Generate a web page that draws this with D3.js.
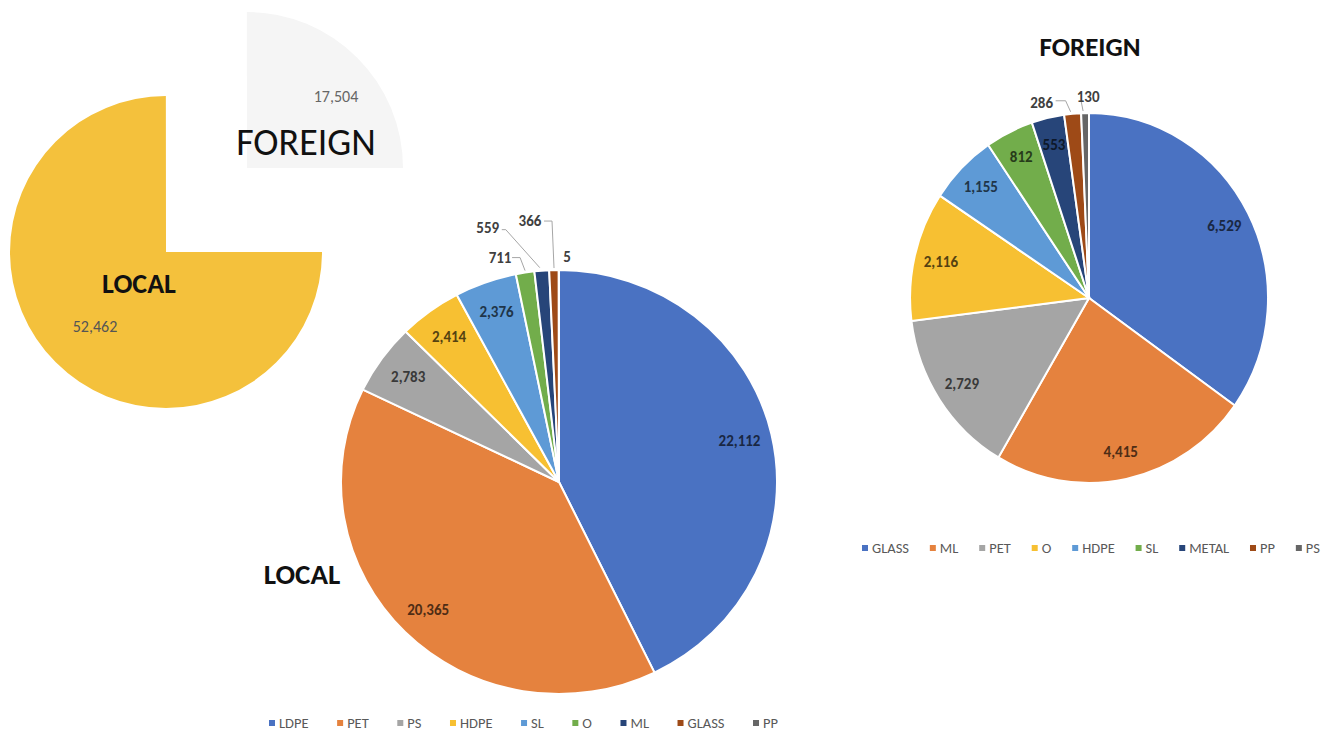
<!DOCTYPE html>
<meta charset="utf-8">
<style>
body { margin: 0; background: #fff; }
svg { display: block; font-family: Carlito, Calibri, Lato, sans-serif; }
.slice { stroke: #fff; stroke-width: 2px; vector-effect: non-scaling-stroke; }
.inlabel { font-size: 15px; font-weight: 700; text-anchor: middle; dominant-baseline: central; }
.outlabel { font-size: 15px; font-weight: 600; fill: #404040; text-anchor: middle; dominant-baseline: central; }
.leader { fill: none; stroke: #a6a6a6; stroke-width: 1px; }
.legend text { font-size: 14.5px; fill: #595959; dominant-baseline: central; }
</style>
<svg width="1337" height="737"></svg>
<script src="https://cdn.jsdelivr.net/npm/d3@7"></script>
<script>

// overview pie
var totalNames = ["LOCAL", "FOREIGN"];
var totalValues = [52462, 17504];

// local breakdown
var localNames = ["LDPE", "PET", "PS", "HDPE", "SL", "O", "ML", "GLASS", "PP"];
var localValues = [22112, 20365, 2783, 2414, 2376, 711, 559, 366, 5];

// foreign breakdown
var foreignNames = ["GLASS", "ML", "PET", "O", "HDPE", "SL", "METAL", "PP", "PS"];
var foreignValues = [6529, 4415, 2729, 2116, 1155, 812, 553, 286, 130];

var palette = ["#4a72c2", "#e5823e", "#a5a5a5", "#f7c032", "#5e9ad6", "#72ad4b", "#274579", "#9e4a17", "#666666"];

var svg = d3.select("svg");
var fmt = d3.format(",");
var pie = d3.pie().sort(null).value(function(d) { return d; });
var unitArc = d3.arc().innerRadius(0).outerRadius(1);

// --- overview pie (top left), foreign slice pulled out
var ov = { cx: 166, cy: 252, r: 156 };
var ovPie = d3.pie().sort(null).startAngle(Math.PI / 2).endAngle(Math.PI * 2.5);
var ovArcs = ovPie(totalValues);
var ovFill = ["#f4c13c", "#f5f5f5"];
var ovShift = [[0, 0], [81, -84]];

svg.append("g").selectAll("path")
  .data(ovArcs)
  .enter().append("path")
    .attr("transform", function(d, i) {
      return "translate(" + (ov.cx + ovShift[i][0]) + "," + (ov.cy + ovShift[i][1]) + ") scale(" + ov.r + ")";
    })
    .attr("d", unitArc)
    .attr("fill", function(d, i) { return ovFill[i]; });

svg.append("text").attr("x", 139).attr("y", 283)
  .attr("text-anchor", "middle").attr("dominant-baseline", "central")
  .style("font-size", "28px").style("font-weight", 700).attr("fill", "#111")
  .text(totalNames[0]);
svg.append("text").attr("x", 95).attr("y", 326)
  .attr("text-anchor", "middle").attr("dominant-baseline", "central")
  .style("font-size", "16px").attr("fill", "#555")
  .text(fmt(totalValues[0]));
svg.append("text").attr("x", 306).attr("y", 142)
  .attr("text-anchor", "middle").attr("dominant-baseline", "central")
  .style("font-size", "38px").attr("fill", "#111")
  .text(totalNames[1]);
svg.append("text").attr("x", 336).attr("y", 96)
  .attr("text-anchor", "middle").attr("dominant-baseline", "central")
  .style("font-size", "16px").attr("fill", "#666")
  .text(fmt(totalValues[1]));

// offsets for labels of thin slices, relative to the slice's outer edge
var localOutside = {
  "O": { dx: -25, dy: -15, lead: [[12, 0], [20, 0], [25, 13]] },
  "ML": { dx: -54, dy: -43, lead: [[14, 2], [18, 2], [52, 40]] },
  "GLASS": { dx: -24, dy: -49, lead: [[14, 0], [22, 0], [24, 47]] },
  "PP": { dx: 8, dy: -13 }
};
var foreignOutside = {
  "PP": { dx: -31, dy: -11, lead: [[14, -2], [24, -2], [29, 9]] },
  "PS": { dx: 3, dy: -16, lead: [[-7, 4], [-5, 14]] }
};

function drawPie(cfg) {
  var g = svg.append("g");
  var arcs = pie(cfg.values);

  g.append("g")
      .attr("transform", "translate(" + cfg.cx + "," + cfg.cy + ") scale(" + cfg.rx + "," + cfg.ry + ")")
    .selectAll("path")
    .data(arcs)
    .enter().append("path")
      .attr("class", "slice")
      .attr("d", unitArc)
      .attr("fill", function(d, i) { return palette[i]; });

  arcs.forEach(function(d, i) {
    var name = cfg.names[i];
    var a = (d.startAngle + d.endAngle) / 2;
    var out = cfg.outside[name];
    if (out) {
      var ex = cfg.cx + cfg.rx * Math.sin(a), ey = cfg.cy - cfg.ry * Math.cos(a);
      var tx = ex + out.dx, ty = ey + out.dy;
      if (out.lead) {
        var pts = out.lead.map(function(p) { return [tx + p[0], ty + p[1]]; });
        g.append("path").attr("class", "leader").attr("d", d3.line()(pts));
      }
      g.append("text").attr("class", "outlabel").attr("x", tx).attr("y", ty).text(fmt(d.value));
    } else {
      var f = 0.85;
      g.append("text").attr("class", "inlabel")
        .attr("x", cfg.cx + f * cfg.rx * Math.sin(a))
        .attr("y", cfg.cy - f * cfg.ry * Math.cos(a))
        .attr("fill", d3.color(palette[i]).darker(3))
        .text(fmt(d.value));
    }
  });

  // legend, spread evenly between x0 and x1
  var lg = svg.append("g").attr("class", "legend");
  var items = lg.selectAll("g").data(cfg.names).enter().append("g");
  items.append("rect").attr("width", 6).attr("height", 6).attr("y", cfg.ly - 3)
    .attr("fill", function(d, i) { return palette[i]; });
  items.append("text").attr("x", 10).attr("y", cfg.ly).text(function(d) { return d; });
  var widths = [];
  items.each(function() { widths.push(10 + d3.select(this).select("text").node().getComputedTextLength()); });
  var gap = (cfg.lx1 - cfg.lx0 - d3.sum(widths)) / (widths.length - 1);
  var x = cfg.lx0;
  items.attr("transform", function(d, i) { var t = "translate(" + x + ",0)"; x += widths[i] + gap; return t; });

  svg.append("text").attr("x", cfg.tx).attr("y", cfg.ty)
    .attr("text-anchor", "middle").attr("dominant-baseline", "central")
    .style("font-size", cfg.tsize).style("font-weight", 700).attr("fill", "#111")
    .text(cfg.title);
}

drawPie({
  names: localNames, values: localValues, outside: localOutside,
  cx: 559, cy: 482, rx: 218, ry: 212,
  lx0: 269, lx1: 778, ly: 723,
  title: "LOCAL", tx: 302, ty: 574, tsize: "29px"
});

drawPie({
  names: foreignNames, values: foreignValues, outside: foreignOutside,
  cx: 1089, cy: 298, rx: 179, ry: 185,
  lx0: 862, lx1: 1320, ly: 548,
  title: "FOREIGN", tx: 1090, ty: 46, tsize: "27px"
});

</script>
